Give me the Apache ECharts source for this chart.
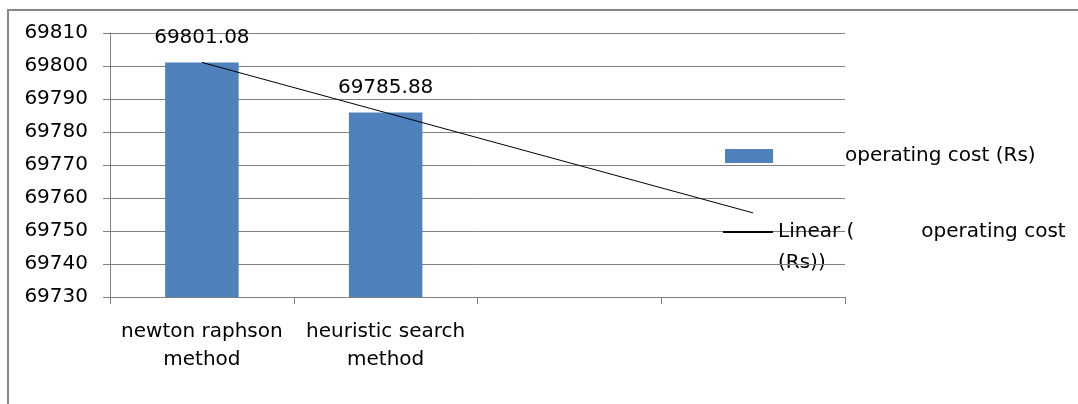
<!DOCTYPE html>
<html>
<head>
<meta charset="utf-8">
<script src="https://cdn.jsdelivr.net/npm/echarts@6/dist/echarts.min.js"></script>
<style>html,body{margin:0;padding:0;background:#fff;}#c{width:1078px;height:404px;}</style>
</head>
<body>
<div id="c"></div>
<script>
var categories = ['newton raphson\nmethod', 'heuristic search\nmethod', '', ''];
var costValues = [69801.08, 69785.88, null, null];
var trendValues = [69801.08, 69785.88, 69770.68, 69755.48];
var yTicks = { min: 69730, max: 69810, interval: 10 };
var barName = 'operating cost (Rs)';
var trendName = 'Linear (operating cost (Rs))';

var FONT = 'DejaVu Sans';
var chart = echarts.init(document.getElementById('c'), null, { renderer: 'canvas' });
chart.setOption({
  animation: false,
  backgroundColor: '#ffffff',
  textStyle: { fontFamily: FONT },
  grid: { left: 110, right: 233, top: 33, bottom: 107 },
  xAxis: {
    type: 'category',
    data: categories,
    boundaryGap: true,
    axisLine: { lineStyle: { color: '#808080', width: 1 } },
    axisTick: { show: true, length: 7, alignWithLabel: false, lineStyle: { color: '#808080' } },
    axisLabel: { color: '#000', fontFamily: FONT, fontSize: 20, lineHeight: 28, margin: 21, interval: 0 }
  },
  yAxis: {
    type: 'value',
    min: yTicks.min, max: yTicks.max, interval: yTicks.interval,
    axisLine: { show: true, lineStyle: { color: '#808080', width: 1 } },
    axisTick: { show: true, length: 7, lineStyle: { color: '#808080' } },
    axisLabel: { color: '#000', fontFamily: FONT, fontSize: 20, margin: 22,
      formatter: function (v) { return String(v); } },
    splitLine: { lineStyle: { color: '#808080', width: 1 } }
  },
  legend: [
    {
      left: 725, top: 146, orient: 'vertical', padding: 0,
      itemWidth: 48, itemHeight: 14,
      data: [{ name: barName, icon: 'rect' }],
      formatter: function (n) { return '{a|' + n + '}'; },
      textStyle: { rich: { a: { fontFamily: FONT, fontSize: 20, color: '#000', padding: [0, 0, 0, 67] } } }
    },
    {
      left: 723, top: 222, orient: 'vertical', padding: 0,
      itemWidth: 50, itemHeight: 14,
      data: [{ name: trendName, icon: 'path://M0,6 L50,6 L50,8 L0,8 Z' }],
      formatter: function () { return '{a|Linear (}{b|operating cost}'; },
      textStyle: { rich: {
        a: { fontFamily: FONT, fontSize: 20, color: '#000' },
        b: { fontFamily: FONT, fontSize: 20, color: '#000', padding: [0, 0, 0, 67] }
      } }
    }
  ],
  graphic: [
    { type: 'rect', shape: { x: 8, y: 10, width: 1200, height: 500 }, style: { fill: 'none', stroke: '#878787', lineWidth: 2 }, silent: true },
    { type: 'text', left: 778, top: 253, style: { text: '(Rs))', fontFamily: FONT, fontSize: 20, fill: '#000' } }
  ],
  series: [
    {
      name: barName,
      type: 'bar',
      data: costValues,
      barWidth: '40%',
      itemStyle: { color: '#4F81BD' },
      label: { show: true, position: 'top', distance: 15, color: '#000', fontFamily: FONT, fontSize: 20,
        formatter: function (p) { return p.value.toFixed(2); } }
    },
    {
      name: trendName,
      type: 'line',
      data: trendValues,
      symbol: 'none',
      lineStyle: { color: '#000', width: 1 },
      itemStyle: { color: '#000' },
      z: 5
    }
  ]
});
</script>
</body>
</html>
